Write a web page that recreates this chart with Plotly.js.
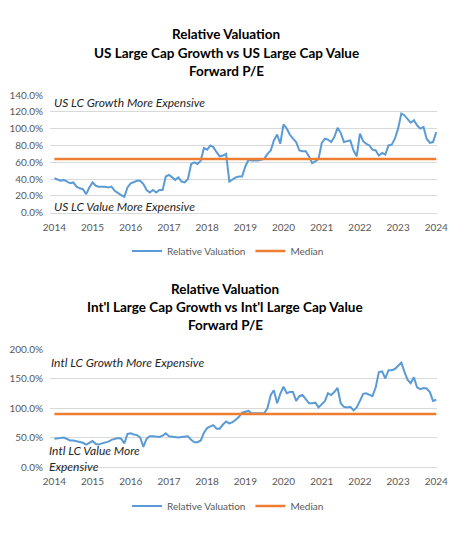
<!DOCTYPE html>
<html>
<head>
<meta charset="utf-8">
<script src="https://cdn.plot.ly/plotly-3.0.1.min.js"></script>
<style>html,body{margin:0;padding:0;background:#fff}#chart{width:464px;height:540px}</style>
</head>
<body>
<div id="chart"></div>
<script>
// ---- data ----
const startYear = 2014, startMonth = 1, monthCount = 121;
const usRelVal = [
 41,39,38,39,37,35,36,31,29,28,22,30,
 36,32,31,31,31,30,31,26,23,21,19,30,
 35,37,38,38,34,27,24,27,24,27,27,43,
 45,42,39,42,37,36,40,58,60,58,62,77,
 75,80,78,72,67,68,70,37,40,42,43,43,
 55,63,62,62,62,63,64,70,74,86,93,82,
 105,100,93,88,84,74,73,73,67,59,61,64,
 83,88,87,84,90,101,95,84,85,86,74,67,
 94,85,82,80,75,74,68,71,69,80,81,88,
 100,118,116,111,107,110,104,100,102,88,83,84,
 96];
const usMedian = 64;
const intlRelVal = [
 48,48,49,50,47,45,45,44,42,41,38,41,
 44,39,38,40,41,43,46,48,49,48,40,56,
 57,55,54,50,34,48,52,52,51,51,53,57,
 52,51,51,50,51,51,52,46,42,42,45,58,
 66,69,71,65,65,72,77,74,76,80,85,92,
 94,95,91,91,91,91,91,100,122,130,108,124,
 136,125,127,127,112,120,122,115,108,108,109,101,
 106,112,125,122,127,134,108,102,101,102,96,101,
 112,124,125,122,120,135,161,162,150,164,164,166,
 172,177,162,148,142,152,135,132,134,133,127,112,
 114];
const intlMedian = 90;
const yearTicks = ['2014','2015','2016','2017','2018','2019','2020','2021','2022','2023','2024'];
const usTitle = ['Relative Valuation','US Large Cap Growth vs US Large Cap Value','Forward P/E'];
const intlTitle = ['Relative Valuation',"Int'l Large Cap Growth vs Int'l Large Cap Value",'Forward P/E'];
const usNotes = ['US LC Growth More Expensive','US LC Value More Expensive'];
const intlNotes = ['Intl LC Growth More Expensive','Intl LC Value More<br>Expensive'];
const seriesNames = ['Relative Valuation','Median'];

// ---- build ----
const dates = [];
for (let i = 0; i < monthCount; i++) {
  const y = startYear + Math.floor((startMonth - 1 + i) / 12);
  const m = ((startMonth - 1 + i) % 12) + 1;
  dates.push(y + '-' + String(m).padStart(2, '0') + '-01');
}
const W = 464, H = 540;
const FONT = 'Lato, Calibri, Carlito, sans-serif';
const blue = '#5b9bd5', orange = '#ed7d31', grid = '#d9d9d9', tickC = '#595959';
const tickDates = yearTicks.map(t => t + '-01-01');

const traces = [
  {x: dates, y: usRelVal, type: 'scatter', mode: 'lines', name: seriesNames[0],
   line: {color: blue, width: 2}, xaxis: 'x', yaxis: 'y', legend: 'legend'},
  {x: dates, y: dates.map(() => usMedian), type: 'scatter', mode: 'lines', name: seriesNames[1],
   line: {color: orange, width: 2.5}, xaxis: 'x', yaxis: 'y', legend: 'legend'},
  {x: dates, y: intlRelVal, type: 'scatter', mode: 'lines', name: seriesNames[0],
   line: {color: blue, width: 2}, xaxis: 'x2', yaxis: 'y2', legend: 'legend2'},
  {x: dates, y: dates.map(() => intlMedian), type: 'scatter', mode: 'lines', name: seriesNames[1],
   line: {color: orange, width: 2.5}, xaxis: 'x2', yaxis: 'y2', legend: 'legend2'}
];

const px = v => v / W, py = v => 1 - v / H;
const xDomain = [px(50), px(437)];
const xRange = ['2013-11-20', '2024-01-08'];
function xax(anchor) {
  return {domain: xDomain, range: xRange, type: 'date', anchor: anchor,
    tickvals: tickDates, ticktext: yearTicks, tickmode: 'array',
    showgrid: false, zeroline: false, showline: true, linecolor: grid, linewidth: 1,
    ticks: '', ticklabelstandoff: 5, tickfont: {family: FONT, size: 10, color: tickC}, fixedrange: true};
}
function yax(anchor, dom, range, dtick) {
  return {domain: dom, range: range, anchor: anchor, dtick: dtick, tick0: 0,
    tickformat: '.1f', ticksuffix: '%', showgrid: true, gridcolor: grid, gridwidth: 1,
    zeroline: false, showline: false, ticks: '', ticklabelstandoff: 6,
    tickfont: {family: FONT, size: 10, color: tickC}, fixedrange: true};
}

const annotations = [];
const titleYs1 = [34, 53, 71], titleYs2 = [289, 307, 325];
const titleFont = {family: FONT, size: 13.5, color: '#000'};
usTitle.forEach((t, i) => annotations.push({text: '<b>' + t + '</b>', x: px(226), y: py(titleYs1[i]),
  xref: 'paper', yref: 'paper', xanchor: 'center', yanchor: 'middle', showarrow: false, font: titleFont}));
intlTitle.forEach((t, i) => annotations.push({text: '<b>' + t + '</b>', x: px(225), y: py(titleYs2[i]),
  xref: 'paper', yref: 'paper', xanchor: 'center', yanchor: 'middle', showarrow: false, font: titleFont}));
const noteFont = {family: FONT, size: 12, color: '#262626'};
annotations.push({text: '<i>' + usNotes[0] + '</i>', x: px(52), y: py(102), xref: 'paper', yref: 'paper',
  xanchor: 'left', yanchor: 'middle', showarrow: false, font: noteFont});
annotations.push({text: '<i>' + usNotes[1] + '</i>', x: px(52), y: py(207), xref: 'paper', yref: 'paper',
  xanchor: 'left', yanchor: 'middle', showarrow: false, font: noteFont});
annotations.push({text: '<i>' + intlNotes[0] + '</i>', x: px(49), y: py(362), xref: 'paper', yref: 'paper',
  xanchor: 'left', yanchor: 'middle', showarrow: false, font: noteFont});
annotations.push({text: '<i>' + intlNotes[1] + '</i>', x: px(47), y: py(458), xref: 'paper', yref: 'paper',
  xanchor: 'left', yanchor: 'middle', align: 'left', showarrow: false, font: noteFont});

const legendBase = {orientation: 'h', xref: 'paper', yref: 'paper', xanchor: 'center', yanchor: 'middle',
  font: {family: FONT, size: 10, color: tickC}, bgcolor: 'rgba(0,0,0,0)', itemwidth: 30,
  tracegroupgap: 0, itemclick: false, itemdoubleclick: false};

const layout = {
  width: W, height: H, margin: {l: 0, r: 0, t: 0, b: 0},
  paper_bgcolor: '#fff', plot_bgcolor: '#fff', showlegend: true,
  xaxis: xax('y'), yaxis: yax('x', [py(212.7), py(95)], [0, 140], 20),
  xaxis2: xax('y2'), yaxis2: yax('x2', [py(467), py(349)], [0, 200], 50),
  legend: Object.assign({}, legendBase, {x: px(228), y: py(251)}),
  legend2: Object.assign({}, legendBase, {x: px(228), y: py(506)}),
  annotations: annotations
};
Plotly.newPlot('chart', traces, layout, {staticPlot: true, displayModeBar: false});
</script>
</body>
</html>
